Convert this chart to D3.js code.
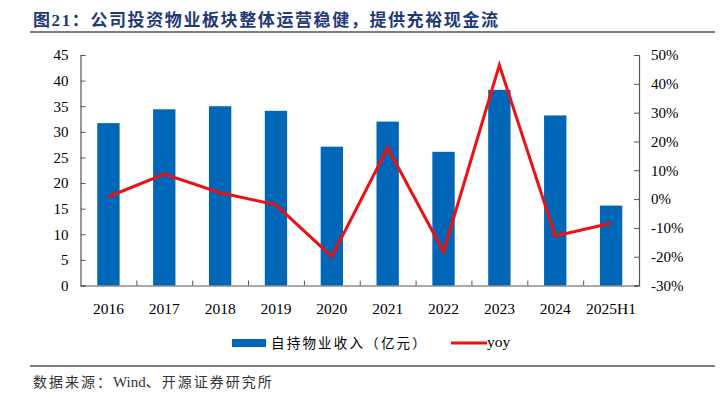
<!DOCTYPE html>
<html>
<head>
<meta charset="utf-8">
<script src="https://cdn.jsdelivr.net/npm/d3@7"></script>
<style>
  body { margin: 0; background: #fff; }
  svg { display: block; }
</style>
</head>
<body>
<div id="chart"></div>
<script>
const years = ["2016", "2017", "2018", "2019", "2020", "2021", "2022", "2023", "2024", "2025H1"];
const revenue = [31.7, 34.4, 35.0, 34.1, 27.1, 32.0, 26.1, 38.2, 33.2, 15.6];
const yoy = [0.8, 8.7, 2.2, -2.0, -20.0, 17.8, -18.3, 46.5, -12.8, -8.4];
const leftTicks = [0, 5, 10, 15, 20, 25, 30, 35, 40, 45];
const rightTicks = [-30, -20, -10, 0, 10, 20, 30, 40, 50];

const W = 726, H = 399;
const plot = { left: 80.5, right: 639, top: 55, bottom: 285.5 };
const serif = "'Liberation Serif', 'Times New Roman', serif";
const cjk = "'Noto Sans CJK SC', sans-serif";

const svg = d3.select("#chart").append("svg")
  .attr("width", W)
  .attr("height", H);

// title + rules
svg.append("text")
  .attr("x", 33)
  .attr("y", 26)
  .style("font-family", serif + ", " + cjk)
  .style("font-size", "17px")
  .style("font-weight", "bold")
  .style("fill", "#1f3a7a")
  .style("letter-spacing", "1.6px")
  .text("图21：公司投资物业板块整体运营稳健，提供充裕现金流");

svg.append("line")
  .attr("x1", 30).attr("x2", 715)
  .attr("y1", 32).attr("y2", 32)
  .attr("stroke", "#000").attr("stroke-width", 1.2);

svg.append("line")
  .attr("x1", 30).attr("x2", 715)
  .attr("y1", 366).attr("y2", 366)
  .attr("stroke", "#000").attr("stroke-width", 1.2);

// source note, latin word kept without extra spacing
const source = svg.append("text")
  .attr("x", 33)
  .attr("y", 387)
  .style("font-family", serif + ", " + cjk)
  .style("font-size", "14px")
  .style("fill", "#333");
source.append("tspan").style("letter-spacing", "2px").text("数据来源：");
source.append("tspan").style("font-size", "15px").text("Wind");
source.append("tspan").style("letter-spacing", "2px").text("、开源证券研究所");

// scales
const x = d3.scaleBand()
  .domain(years)
  .range([plot.left, plot.right])
  .paddingInner(0.6)
  .paddingOuter(0.3);

const xEdge = d3.scaleBand().domain(years).range([plot.left, plot.right]);

const y = d3.scaleLinear().domain([0, 45]).range([plot.bottom, plot.top]);
const y2 = d3.scaleLinear().domain([-30, 50]).range([plot.bottom, plot.top]);

// bars
svg.append("g")
  .selectAll("rect")
  .data(revenue)
  .enter()
  .append("rect")
  .attr("x", (d, i) => x(years[i]))
  .attr("y", d => y(d))
  .attr("width", x.bandwidth())
  .attr("height", d => y(0) - y(d))
  .attr("fill", "#0066b8");

// axes
const axisLeft = svg.append("g")
  .attr("transform", `translate(${plot.left},0)`)
  .call(d3.axisLeft(y).tickValues(leftTicks).tickSize(-5).tickPadding(12));

const axisRight = svg.append("g")
  .attr("transform", `translate(${plot.right},0)`)
  .call(d3.axisRight(y2).tickValues(rightTicks).tickSize(-5).tickPadding(12)
    .tickFormat(d => d + "%"));

const axisBottom = svg.append("g")
  .attr("transform", `translate(0,${plot.bottom})`)
  .call(d3.axisBottom(xEdge).tickSize(0).tickPadding(17));

// category separator ticks (pointing up)
svg.append("g")
  .selectAll("line")
  .data(years.slice(1))
  .enter()
  .append("line")
  .attr("x1", d => xEdge(d) + 0.5)
  .attr("x2", d => xEdge(d) + 0.5)
  .attr("y1", plot.bottom)
  .attr("y2", plot.bottom - 5)
  .attr("stroke", "#555");

[axisLeft, axisRight, axisBottom].forEach(g => {
  g.select(".domain").attr("stroke", "#555").attr("stroke-width", 1.2);
  g.selectAll(".tick line").attr("stroke", "#555");
  g.selectAll("text")
    .style("font-family", serif)
    .style("font-size", "15px")
    .style("fill", "#000");
});
axisBottom.selectAll("text").style("font-size", "15.5px");

// yoy line
const line = d3.line()
  .x((d, i) => xEdge(years[i]) + xEdge.bandwidth() / 2)
  .y(d => y2(d));

svg.append("path")
  .datum(yoy)
  .attr("fill", "none")
  .attr("stroke", "#ee1111")
  .attr("stroke-width", 3)
  .attr("stroke-linejoin", "miter")
  .attr("d", line);

// legend
const legend = svg.append("g");
legend.append("rect")
  .attr("x", 232).attr("y", 339)
  .attr("width", 34).attr("height", 8)
  .attr("fill", "#0066b8");
legend.append("text")
  .attr("x", 271).attr("y", 348)
  .style("font-family", cjk)
  .style("font-size", "13.5px")
  .style("letter-spacing", "2.2px")
  .style("fill", "#000")
  .text("自持物业收入（亿元）");
legend.append("line")
  .attr("x1", 451).attr("x2", 487)
  .attr("y1", 343).attr("y2", 343)
  .attr("stroke", "#ee1111")
  .attr("stroke-width", 3);
legend.append("text")
  .attr("x", 487).attr("y", 347)
  .style("font-family", serif)
  .style("font-size", "15.5px")
  .style("fill", "#000")
  .text("yoy");
</script>
</body>
</html>
